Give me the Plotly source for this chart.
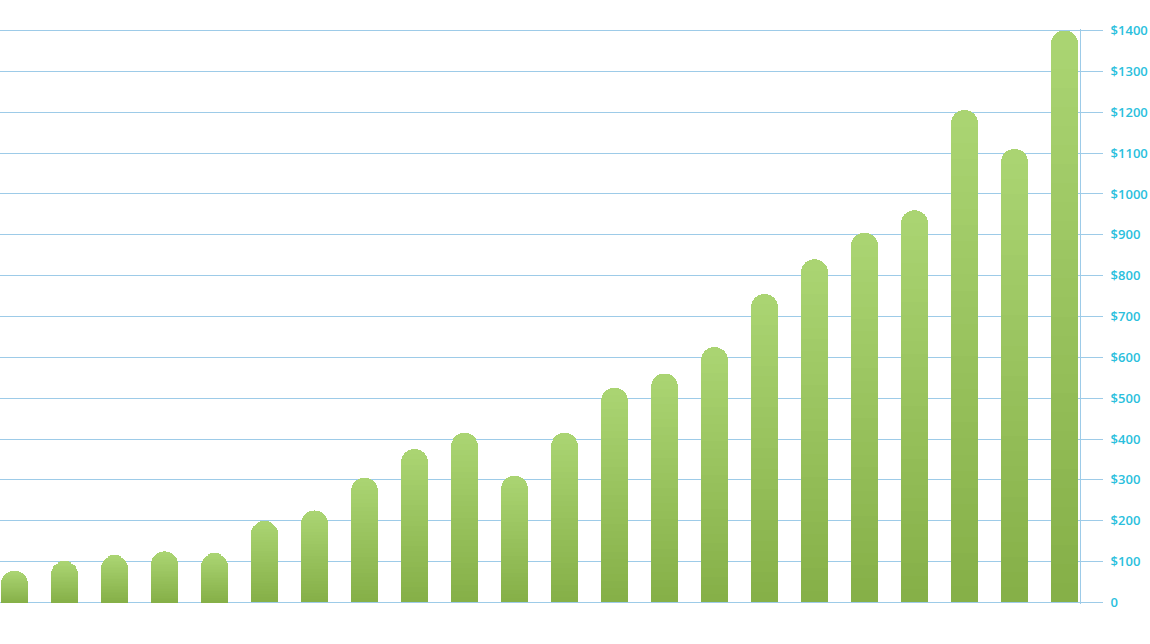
import plotly.graph_objects as go

# values, left to right
positions = list(range(22))
values = [75, 100, 115, 125, 120, 200, 225, 305, 375, 415, 310,
          415, 525, 560, 625, 755, 840, 905, 960, 1205, 1110, 1400]
tick_vals = [0, 100, 200, 300, 400, 500, 600, 700, 800, 900, 1000,
             1100, 1200, 1300, 1400]
tick_text = ['0', '$100', '$200', '$300', '$400', '$500', '$600', '$700',
             '$800', '$900', '$1000', '$1100', '$1200', '$1300', '$1400']

TOP = (170, 212, 114)     # light green at the top of each bar
BOTTOM = (134, 176, 72)   # darker green at the base
GRID = '#9dcbe8'
LABEL = '#2bbfdd'
STEPS = 30  # slices used to fake the vertical gradient

# pixel layout: 0 sits at y=602, 1400 at y=31; pad the range a little so
# plotly does not drop the end grid lines
PAD = 4
PX = 571 / 1400


def mix(k):
    '''colour of slice k (0 = bottom)'''
    t = k / (STEPS - 1)
    r, g, b = [round(BOTTOM[i] + (TOP[i] - BOTTOM[i]) * t) for i in range(3)]
    return f'rgb({r},{g},{b})'


fig = go.Figure()

# each bar is stacked from thin slices so the colour can fade upwards
for k in range(STEPS):
    fig.add_trace(
        go.Bar(
            x=positions,
            y=[v / STEPS for v in values],
            marker=dict(color=mix(k), line=dict(width=0)),
            width=0.54,
            hoverinfo='skip',
            showlegend=False,
        )
    )

fig.update_layout(
    barmode='stack',
    barcornerradius=14,
    width=1150,
    height=644,
    margin=dict(l=0, r=70, t=31 - PAD * PX, b=42 - PAD * PX, autoexpand=False),
    plot_bgcolor='white',
    paper_bgcolor='white',
    font=dict(family='Open Sans', size=13, color=LABEL),
    xaxis=dict(
        range=[-0.29, 21.31],
        showgrid=False,
        zeroline=False,
        showticklabels=False,
        ticks='',
        fixedrange=True,
        automargin=False,
    ),
    yaxis=dict(
        side='right',
        range=[-PAD, 1400 + PAD],
        tickvals=tick_vals,
        ticktext=tick_text,
        showgrid=True,
        gridcolor=GRID,
        gridwidth=1,
        zeroline=False,
        showline=True,
        linecolor=GRID,
        linewidth=1,
        ticks='outside',
        ticklen=22,
        tickcolor=GRID,
        tickwidth=1,
        ticklabelstandoff=5,
        tickfont=dict(family='Open Sans', size=13, color=LABEL, weight=600),
        fixedrange=True,
        automargin=False,
    ),
)

fig.write_html(
    'out.html',
    config={'displayModeBar': False},
    post_script="document.body.style.margin='0';",
)
